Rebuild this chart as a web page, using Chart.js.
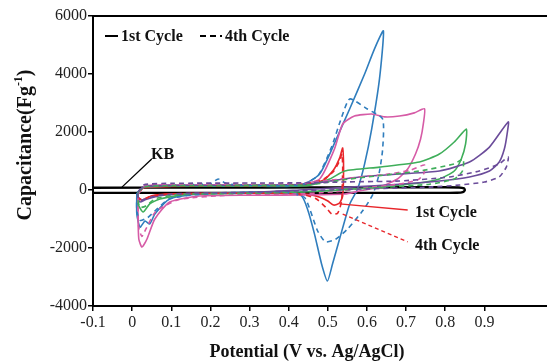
<!DOCTYPE html>
<html>
<head>
<meta charset="utf-8">
<script src="https://cdn.jsdelivr.net/npm/chart.js@4/dist/chart.umd.min.js"></script>
<style>
  html, body { margin: 0; padding: 0; background: #fff; }
  #wrap { width: 547px; height: 361px; }
</style>
</head>
<body>
<div id="wrap"><canvas id="chart"></canvas></div>
<script>
// potential (V) / capacitance (F/g) pairs
const kb = [[-0.1, 80], [0.2, 85], [0.5, 90], [0.8, 95], [0.835, 88], [0.848, 55], [0.85, -5], [0.845, -70], [0.83, -95], [0.8, -100], [0.5, -100], [0.2, -100], [-0.1, -100]];

const redSolid = [[0.015, -100], [0.03, 80], [0.1, 120], [0.2, 130], [0.3, 130], [0.4, 140], [0.45, 200], [0.49, 350], [0.515, 700], [0.53, 1100], [0.538, 1450], [0.54, 1000], [0.54, 400], [0.538, -200], [0.53, -450], [0.515, -520], [0.5, -380], [0.48, -250], [0.45, -150], [0.4, -110], [0.3, -100], [0.2, -110], [0.1, -130], [0.05, -200], [0.025, -350], [0.015, -250], [0.015, -100]];
const redDash = [[0.015, -120], [0.03, 90], [0.1, 140], [0.2, 150], [0.3, 150], [0.4, 160], [0.45, 220], [0.49, 380], [0.515, 650], [0.53, 1000], [0.536, 1250], [0.538, 800], [0.537, 200], [0.535, -400], [0.525, -800], [0.51, -830], [0.495, -600], [0.47, -300], [0.44, -170], [0.4, -120], [0.3, -110], [0.2, -120], [0.1, -140], [0.05, -210], [0.025, -330], [0.015, -240], [0.015, -120]];

const blueSolid = [[0.013, -100], [0.03, 100], [0.1, 130], [0.2, 130], [0.3, 135], [0.428, 150], [0.479, 550], [0.525, 1860], [0.556, 2800], [0.594, 4000], [0.619, 4860], [0.642, 5485], [0.632, 3830], [0.612, 2100], [0.594, 900], [0.576, 35], [0.556, -480], [0.53, -1690], [0.512, -2550], [0.499, -3140], [0.484, -2550], [0.466, -1520], [0.448, -655], [0.433, -207], [0.403, -70], [0.3, -70], [0.173, -140], [0.096, -310], [0.058, -830], [0.045, -1170], [0.033, -1070], [0.02, -1280], [0.012, -830], [0.012, -140], [0.013, -100]];
const blueDash = [[0.013, -90], [0.03, 110], [0.1, 160], [0.2, 220], [0.22, 380], [0.24, 220], [0.3, 170], [0.428, 170], [0.475, 500], [0.51, 1500], [0.535, 2500], [0.556, 3140], [0.6, 2800], [0.64, 2450], [0.64, 1400], [0.63, 500], [0.615, -150], [0.59, -700], [0.55, -1350], [0.52, -1700], [0.494, -1790], [0.474, -1414], [0.455, -700], [0.44, -250], [0.4, -100], [0.3, -90], [0.173, -150], [0.096, -300], [0.06, -700], [0.04, -950], [0.02, -1050], [0.012, -700], [0.012, -130], [0.013, -90]];

const pinkSolid = [[0.015, -150], [0.033, 138], [0.1, 170], [0.2, 170], [0.3, 170], [0.42, 180], [0.479, 380], [0.517, 1414], [0.538, 2277], [0.568, 2550], [0.612, 2620], [0.645, 2520], [0.683, 2550], [0.721, 2660], [0.747, 2800], [0.744, 2280], [0.737, 1760], [0.724, 1240], [0.704, 725], [0.678, 380], [0.632, 100], [0.581, -35], [0.543, -140], [0.45, -170], [0.3, -180], [0.173, -207], [0.096, -414], [0.058, -1000], [0.038, -1690], [0.025, -1966], [0.017, -1690], [0.015, -828], [0.015, -150]];
const pinkDash = [[0.015, -140], [0.033, 150], [0.1, 190], [0.2, 200], [0.3, 200], [0.42, 220], [0.5, 330], [0.58, 450], [0.65, 540], [0.71, 680], [0.747, 860], [0.745, 560], [0.73, 350], [0.68, 200], [0.6, 80], [0.52, -60], [0.4, -150], [0.25, -180], [0.12, -330], [0.06, -750], [0.035, -1350], [0.025, -1600], [0.017, -1300], [0.015, -650], [0.015, -140]];

const greenSolid = [[0.015, -100], [0.03, 100], [0.1, 130], [0.3, 140], [0.45, 160], [0.505, 380], [0.543, 655], [0.632, 790], [0.734, 965], [0.785, 1240], [0.823, 1656], [0.854, 2100], [0.852, 1590], [0.841, 1070], [0.823, 655], [0.785, 380], [0.734, 240], [0.632, 100], [0.53, 0], [0.428, -70], [0.3, -110], [0.15, -140], [0.071, -310], [0.045, -480], [0.028, -760], [0.015, -480], [0.015, -100]];
const greenDash = [[0.015, -90], [0.03, 110], [0.1, 150], [0.3, 160], [0.45, 180], [0.556, 380], [0.734, 655], [0.823, 900], [0.846, 1070], [0.844, 655], [0.823, 380], [0.76, 200], [0.63, 80], [0.5, -20], [0.4, -80], [0.25, -120], [0.12, -150], [0.06, -300], [0.035, -550], [0.02, -600], [0.015, -350], [0.015, -90]];

const purpleSolid = [[0.015, -90], [0.03, 120], [0.1, 160], [0.3, 170], [0.45, 200], [0.505, 310], [0.581, 450], [0.683, 550], [0.785, 655], [0.862, 965], [0.913, 1480], [0.961, 2350], [0.958, 1930], [0.951, 1414], [0.938, 965], [0.913, 655], [0.862, 450], [0.785, 310], [0.683, 200], [0.556, 100], [0.428, 0], [0.3, -90], [0.15, -120], [0.07, -200], [0.035, -330], [0.02, -414], [0.015, -250], [0.015, -90]];
const purpleDash = [[0.015, -80], [0.03, 180], [0.1, 230], [0.3, 240], [0.45, 250], [0.55, 280], [0.683, 310], [0.811, 450], [0.887, 655], [0.938, 900], [0.961, 1140], [0.956, 790], [0.938, 450], [0.9, 275], [0.836, 170], [0.76, 100], [0.6, 40], [0.45, -20], [0.3, -80], [0.15, -110], [0.07, -180], [0.035, -300], [0.02, -360], [0.015, -220], [0.015, -80]];

const xTicks = { min: -0.1, max: 1.06, step: 0.1, last: 0.9 };
const yTicks = { min: -4000, max: 6000, step: 2000 };

const serif = "'Liberation Serif', 'Times New Roman', serif";

function ds(points, color, dashed, width) {
    return {
        data: points.map(p => ({ x: p[0], y: p[1] })),
        showLine: true,
        borderColor: color,
        borderWidth: width || 1.6,
        borderDash: dashed ? [5, 4] : [],
        pointRadius: 0,
        tension: 0.2,
        fill: false
    };
}

// legend, labels, leaders, axis titles
const decor = {
    id: 'decor',
    afterDatasetsDraw(chart) {
        const { ctx, chartArea, scales } = chart;
        const xs = scales.x, ys = scales.y;
        ctx.save();
        // top frame line
        ctx.strokeStyle = '#000';
        ctx.lineWidth = 2;
        ctx.beginPath();
        ctx.moveTo(chartArea.left, chartArea.top);
        ctx.lineTo(chartArea.right, chartArea.top);
        ctx.stroke();

        ctx.font = 'bold 16px ' + serif;
        ctx.fillStyle = '#111';
        ctx.textBaseline = 'middle';

        // legend
        ctx.lineWidth = 2;
        ctx.beginPath();
        ctx.moveTo(105, 36); ctx.lineTo(118, 36);
        ctx.stroke();
        ctx.fillText('1st Cycle', 121, 37);
        ctx.setLineDash([6, 4]);
        ctx.beginPath();
        ctx.moveTo(200, 36); ctx.lineTo(222, 36);
        ctx.stroke();
        ctx.setLineDash([]);
        ctx.fillText('4th Cycle', 225, 37);

        // KB label
        ctx.lineWidth = 1.3;
        ctx.beginPath();
        ctx.moveTo(xs.getPixelForValue(0.05), ys.getPixelForValue(1070));
        ctx.lineTo(xs.getPixelForValue(-0.026), ys.getPixelForValue(100));
        ctx.stroke();
        ctx.fillText('KB', 151, 155);

        // cycle labels with red leaders
        ctx.strokeStyle = '#e8262b';
        ctx.beginPath();
        ctx.moveTo(xs.getPixelForValue(0.53), ys.getPixelForValue(-480));
        ctx.lineTo(xs.getPixelForValue(0.704), ys.getPixelForValue(-690));
        ctx.stroke();
        ctx.setLineDash([4, 3]);
        ctx.beginPath();
        ctx.moveTo(xs.getPixelForValue(0.538), ys.getPixelForValue(-830));
        ctx.lineTo(xs.getPixelForValue(0.704), ys.getPixelForValue(-1790));
        ctx.stroke();
        ctx.setLineDash([]);
        ctx.fillText('1st Cycle', 415, 213);
        ctx.fillText('4th Cycle', 415, 246);

        // axis titles
        ctx.font = 'bold 18px ' + serif;
        ctx.textAlign = 'center';
        ctx.fillText('Potential (V vs. Ag/AgCl)', 307, 352);

        ctx.translate(26, 145);
        ctx.rotate(-Math.PI / 2);
        const main = 'Capacitance(Fg';
        const sup = '-1';
        const close = ')';
        ctx.font = 'bold 20px ' + serif;
        const w1 = ctx.measureText(main).width;
        const w3 = ctx.measureText(close).width;
        ctx.font = 'bold 12px ' + serif;
        const w2 = ctx.measureText(sup).width;
        let x0 = -(w1 + w2 + w3) / 2;
        ctx.textAlign = 'left';
        ctx.font = 'bold 20px ' + serif;
        ctx.fillText(main, x0, 0);
        ctx.font = 'bold 12px ' + serif;
        ctx.fillText(sup, x0 + w1, -7);
        ctx.font = 'bold 20px ' + serif;
        ctx.fillText(close, x0 + w1 + w2, 0);
        ctx.restore();
    }
};

const ctx = document.getElementById('chart').getContext('2d');
new Chart(ctx, {
    type: 'scatter',
    data: {
        datasets: [
            ds(purpleDash, '#6b4c9a', true),
            ds(greenDash, '#3fae5a', true),
            ds(pinkDash, '#d65ba6', true),
            ds(blueDash, '#2f7dbd', true),
            ds(redDash, '#e8262b', true),
            ds(purpleSolid, '#6b4c9a', false),
            ds(greenSolid, '#3fae5a', false),
            ds(pinkSolid, '#d65ba6', false),
            ds(blueSolid, '#2f7dbd', false),
            ds(redSolid, '#e8262b', false),
            ds(kb, '#000000', false, 2.4)
        ]
    },
    options: {
        responsive: true,
        maintainAspectRatio: false,
        animation: false,
        layout: { padding: { top: 16, right: 0, left: 0, bottom: 0 } },
        plugins: {
            legend: { display: false },
            tooltip: { enabled: false }
        },
        scales: {
            x: {
                type: 'linear',
                min: xTicks.min,
                max: xTicks.max,
                afterBuildTicks: scale => {
                    scale.ticks = scale.ticks.filter(t => t.value <= xTicks.last + 1e-9);
                },
                afterFit: scale => { scale.height = 55; },
                ticks: {
                    stepSize: xTicks.step,
                    padding: 2,
                    color: '#222',
                    font: { family: serif, size: 16 },
                    callback: v => (Math.abs(v) < 1e-9 ? '0' : (Math.round(v * 10) / 10).toString())
                },
                grid: { drawOnChartArea: false, drawTicks: true, tickLength: 5, color: '#000', lineWidth: 1.5 },
                border: { display: true, color: '#000', width: 2 }
            },
            y: {
                min: yTicks.min,
                max: yTicks.max,
                afterFit: scale => { scale.width = 93; },
                ticks: {
                    stepSize: yTicks.step,
                    padding: 1,
                    color: '#222',
                    font: { family: serif, size: 16 },
                    callback: v => String(v)
                },
                grid: { drawOnChartArea: false, drawTicks: true, tickLength: 5, color: '#000', lineWidth: 1.5 },
                border: { display: true, color: '#000', width: 2 }
            }
        }
    },
    plugins: [decor]
});
</script>
</body>
</html>
